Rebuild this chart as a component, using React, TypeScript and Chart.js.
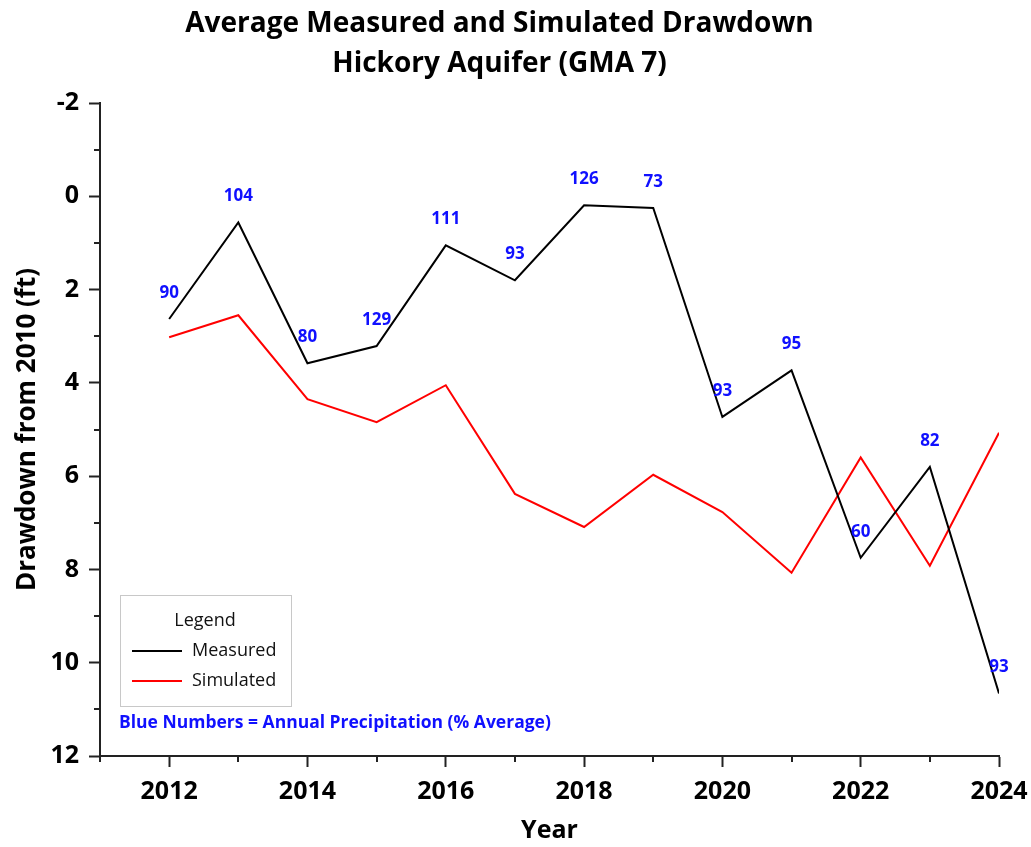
import React, { useEffect, useRef } from "react";
import { Chart, registerables } from "chart.js";

Chart.register(...registerables);

const years = [2012, 2013, 2014, 2015, 2016, 2017, 2018, 2019, 2020, 2021, 2022, 2023, 2024];
const measured = [2.63, 0.56, 3.58, 3.21, 1.05, 1.8, 0.19, 0.25, 4.73, 3.73, 7.75, 5.8, 10.66];
const simulated = [3.02, 2.55, 4.35, 4.84, 4.05, 6.38, 7.09, 5.97, 6.77, 8.07, 5.6, 7.92, 5.07];
const precip = ["90", "104", "80", "129", "111", "93", "126", "73", "93", "95", "60", "82", "93"];
const yTickValues = [-2, 0, 2, 4, 6, 8, 10, 12];
const xTickValues = [2012, 2014, 2016, 2018, 2020, 2022, 2024];

const FONT = "'Open Sans', sans-serif";

const extrasPlugin = {
  id: "extras",
  afterDraw(chart: any) {
    const ctx = chart.ctx;
    const xs = chart.scales.x;
    const ys = chart.scales.y;
    ctx.save();
    // minor ticks
    ctx.strokeStyle = "#222";
    ctx.lineWidth = 2;
    for (let v = -1; v <= 11; v += 2) {
      const py = Math.round(ys.getPixelForValue(v));
      ctx.beginPath();
      ctx.moveTo(xs.left - 6, py);
      ctx.lineTo(xs.left, py);
      ctx.stroke();
    }
    for (let yr = 2011; yr <= 2023; yr += 2) {
      const px = Math.round(xs.getPixelForValue(yr));
      ctx.beginPath();
      ctx.moveTo(px, ys.bottom);
      ctx.lineTo(px, ys.bottom + 6);
      ctx.stroke();
    }
    // precipitation labels
    ctx.fillStyle = "#1010ff";
    ctx.font = `bold 17px ${FONT}`;
    ctx.textAlign = "center";
    ctx.textBaseline = "middle";
    years.forEach((yr, i) => {
      const px = xs.getPixelForValue(yr);
      const py = ys.getPixelForValue(measured[i]);
      ctx.fillText(precip[i], px, py - 26);
    });
    // legend box
    const bx = 120, by = 595, bw = 171, bh = 111;
    ctx.fillStyle = "#fff";
    ctx.fillRect(bx, by, bw, bh);
    ctx.strokeStyle = "#c8c8c8";
    ctx.lineWidth = 1;
    ctx.strokeRect(bx + 0.5, by + 0.5, bw, bh);
    ctx.fillStyle = "#111";
    ctx.font = `18px ${FONT}`;
    ctx.textAlign = "center";
    ctx.fillText("Legend", 205, 621);
    ctx.textAlign = "left";
    ctx.fillText("Measured", 192, 651);
    ctx.fillText("Simulated", 192, 681);
    ctx.lineWidth = 2;
    ctx.strokeStyle = "#000";
    ctx.beginPath();
    ctx.moveTo(132, 651);
    ctx.lineTo(182, 651);
    ctx.stroke();
    ctx.strokeStyle = "#ff0000";
    ctx.beginPath();
    ctx.moveTo(132, 681);
    ctx.lineTo(182, 681);
    ctx.stroke();
    // note
    ctx.fillStyle = "#1010ff";
    ctx.font = `bold 17.5px ${FONT}`;
    ctx.textAlign = "left";
    ctx.fillText("Blue Numbers = Annual Precipitation (% Average)", 119, 723);
    ctx.restore();
  },
};

export default function App() {
  const ref = useRef<HTMLCanvasElement | null>(null);
  useEffect(() => {
    document.body.style.margin = "0";
    const canvas = ref.current!;
    const chart = new Chart(canvas, {
      type: "line",
      data: {
        datasets: [
          {
            label: "Measured",
            data: years.map((x, i) => ({ x, y: measured[i] })),
            borderColor: "#000",
            borderWidth: 2,
            pointRadius: 0,
            tension: 0,
          },
          {
            label: "Simulated",
            data: years.map((x, i) => ({ x, y: simulated[i] })),
            borderColor: "#ff0000",
            borderWidth: 2,
            pointRadius: 0,
            tension: 0,
          },
        ],
      },
      options: {
        animation: false,
        responsive: false,
        layout: { padding: { left: 0, right: 32, top: 0, bottom: 0 } },
        plugins: {
          legend: { display: false },
          tooltip: { enabled: false },
          title: {
            display: true,
            text: ["Average Measured and Simulated Drawdown", "Hickory Aquifer (GMA 7)"],
            color: "#000",
            font: { family: FONT, size: 28, weight: "bold", lineHeight: 1.43 },
            padding: { top: 4, bottom: 19 },
          },
        },
        scales: {
          x: {
            type: "linear",
            min: 2011,
            max: 2024,
            afterFit: (s: any) => { s.height = 91; s.paddingRight = 0; s.paddingLeft = 0; },
            afterBuildTicks: (s: any) => { s.ticks = xTickValues.map((v) => ({ value: v })); },
            grid: { drawOnChartArea: false, tickLength: 11, tickWidth: 2, tickColor: "#222" },
            border: { color: "#222", width: 2 },
            ticks: {
              color: "#000",
              font: { family: FONT, size: 25, weight: "bold" },
              padding: 10,
              maxRotation: 0,
              callback: (v: any) => String(v),
            },
            title: {
              display: true,
              text: "Year",
              color: "#000",
              font: { family: FONT, size: 25, weight: "bold" },
              padding: { top: 0, bottom: 1 },
            },
          },
          y: {
            type: "linear",
            reverse: true,
            min: -2,
            max: 12,
            afterFit: (s: any) => { s.width = 100; s.paddingTop = 0; s.paddingBottom = 0; },
            afterBuildTicks: (s: any) => { s.ticks = yTickValues.map((v) => ({ value: v })); },
            grid: { drawOnChartArea: false, tickLength: 11, tickWidth: 2, tickColor: "#222" },
            border: { color: "#222", width: 2 },
            ticks: {
              color: "#000",
              font: { family: FONT, size: 25, weight: "bold" },
              padding: 10,
              callback: (v: any) => String(v),
            },
            title: {
              display: true,
              text: "Drawdown from 2010 (ft)",
              color: "#000",
              font: { family: FONT, size: 26, weight: "bold" },
              padding: { top: 12, bottom: 0 },
            },
          },
        },
      },
      plugins: [extrasPlugin],
    });
    return () => chart.destroy();
  }, []);
  return (
    <div style={{ position: "absolute", left: 0, top: 0, width: 1031, height: 847, background: "#fff" }}>
      <canvas ref={ref} width={1031} height={847} style={{ width: 1031, height: 847 }} />
    </div>
  );
}
